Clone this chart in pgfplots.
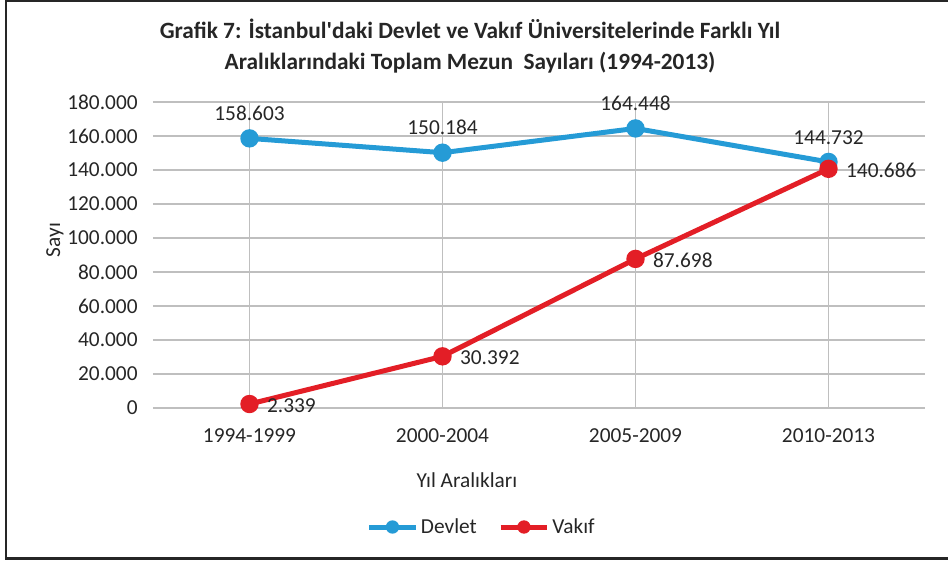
\documentclass[border=0pt]{standalone}
\usepackage{pgfplots}
\pgfplotsset{compat=1.18}
\usepackage{fontspec}
\setmainfont{Carlito}
\definecolor{devlet}{HTML}{259BD6}
\definecolor{vakif}{HTML}{E31E26}
\definecolor{txt}{HTML}{262626}
\definecolor{grid}{HTML}{D9D9D9}
\begin{document}
\begin{tikzpicture}
\begin{axis}[
  at={(0,0)}, anchor=south west,
  scale only axis,
  width=579pt, height=229.5pt,
  xmin=-0.5, xmax=3.5,
  ymin=0, ymax=180000,
  xtick={0,1,2,3},
  xticklabels={1994-1999,2000-2004,2005-2009,2010-2013},
  ytick={0,20000,...,180000},
  scaled y ticks=false,
  /pgf/number format/.cd, assume math mode=true, fixed, precision=0, 1000 sep={.},
  /pgfplots/.cd,
  axis line style={draw=none},
  tick style={draw=none},
  ymajorgrids,
  grid style={grid, line width=1.2pt},
  ticklabel style={font=\fontsize{16}{19}\selectfont, text=txt},
  yticklabel style={xshift=-8pt},
  xticklabel style={yshift=-12pt},
  clip=false,
  legend style={draw=none, at={(246.75pt,-89.25pt)}, anchor=center, font=\fontsize{16}{19}\selectfont, text=txt, legend columns=2, /tikz/every even column/.append style={column sep=14pt}},
  legend image code/.code={\draw[#1, line width=3.75pt] (0pt,0pt) -- (35pt,0pt); \fill[#1, draw=none] (17.5pt,0pt) circle (5pt);},
  nodes near coords,
  every node near coord/.append style={font=\fontsize{16}{19}\selectfont, text=txt},
]
\addplot[devlet, line width=3.75pt, mark=*, mark size=5pt, mark options={draw=none, fill=devlet},
  nodes near coords align={above}, every node near coord/.append style={yshift=8pt}]
  coordinates {(0,158603) (1,150184) (2,164448) (3,144732)};
\addlegendentry{Devlet}
\addplot[vakif, line width=3.75pt, mark=*, mark size=5pt, mark options={draw=none, fill=vakif},
  nodes near coords align={right}, every node near coord/.append style={xshift=8pt, yshift=-1pt}]
  coordinates {(0,2339) (1,30392) (2,87698) (3,140686)};
\addlegendentry{Vakıf}
\end{axis}
\node[font=\bfseries\fontsize{17.5}{21}\selectfont, text=txt, align=center] at (237.75pt,271.5pt) {Grafik 7: İstanbul\textquotesingle daki Devlet ve Vakıf Üniversitelerinde Farklı Yıl\\[2pt]Aralıklarındaki Toplam Mezun\ \ Sayıları (1994-2013)};
\node[font=\fontsize{16}{19}\selectfont, text=txt] at (235.5pt,-54pt) {Yıl Aralıkları};
\node[font=\fontsize{16}{19}\selectfont, text=txt, rotate=90] at (-73.5pt,126pt) {Sayı};
\draw[black!85, line width=2.2pt] (620pt,305.25pt) -- (-110.25pt,305.25pt) -- (-110.25pt,-113pt) -- (620pt,-113pt);
\pgfresetboundingbox
\useasboundingbox (-114.75pt,-116.25pt) rectangle (596.25pt,306pt);
\end{tikzpicture}
\end{document}
